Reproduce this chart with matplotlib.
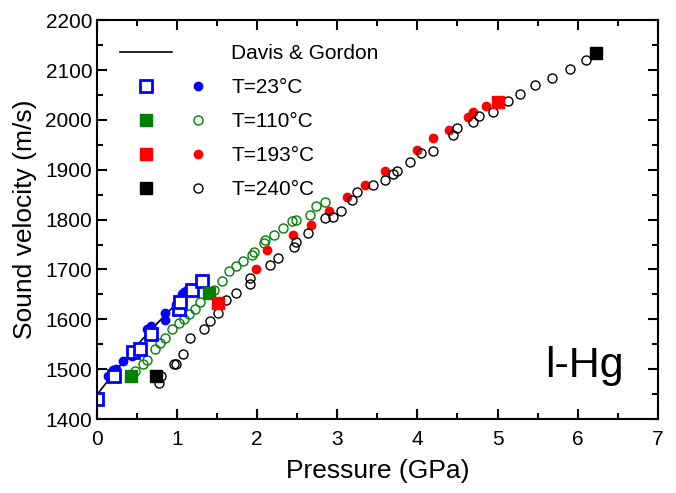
import matplotlib
matplotlib.use("Agg")
import matplotlib.pyplot as plt
from matplotlib.lines import Line2D
from matplotlib.legend_handler import HandlerTuple
from matplotlib.ticker import MultipleLocator

plt.rcParams['font.family'] = ['Liberation Sans', 'DejaVu Sans']

#%% data
# Davis & Gordon reference curve, 23 C
dg_p = [0.0, 0.2, 0.4, 0.6, 0.8, 1.0, 1.15]
dg_v = [1449, 1490, 1529, 1566, 1600, 1633, 1658]

# squares (other data set)
sq23_p = [0.0, 0.21, 0.45, 0.54, 0.67, 1.02, 1.04, 1.18, 1.31]
sq23_v = [1440, 1486, 1535, 1541, 1570, 1621, 1635, 1658, 1677]
sq110_p = [0.43, 1.40]
sq110_v = [1486, 1653]
sq193_p = [1.51, 5.00]
sq193_v = [1633, 2036]
sq240_p = [0.74, 6.23]
sq240_v = [1486, 2135]

# circles (this work)
c23_p = [0.14, 0.20, 0.24, 0.33, 0.44, 0.53, 0.63, 0.67, 0.66, 0.85, 0.85,
         0.99, 1.06, 1.09, 1.12]
c23_v = [1486, 1499, 1500, 1516, 1527, 1541, 1580, 1586, 1578, 1613, 1599,
         1629, 1651, 1655, 1658]
c110_p = [0.48, 0.57, 0.62, 0.72, 0.79, 0.85, 0.94, 1.02, 1.08, 1.15, 1.22,
          1.28, 1.46, 1.56, 1.65, 1.74, 1.82, 1.93, 1.96, 2.08, 2.10, 2.21,
          2.32, 2.44, 2.48, 2.66, 2.74, 2.85]
c110_v = [1496, 1511, 1519, 1541, 1553, 1563, 1580, 1593, 1601, 1611, 1621,
          1635, 1659, 1677, 1696, 1706, 1718, 1730, 1735, 1753, 1759, 1770,
          1783, 1798, 1800, 1809, 1828, 1836]
c193_p = [1.99, 2.12, 2.45, 2.67, 2.90, 3.12, 3.35, 3.59, 4.00, 4.20, 4.40,
          4.63, 4.69, 4.86]
c193_v = [1701, 1739, 1770, 1790, 1818, 1846, 1869, 1897, 1939, 1963, 1979,
          2005, 2015, 2028]
c240_p = [0.77, 0.80, 0.96, 0.99, 1.07, 1.16, 1.33, 1.41, 1.51, 1.61, 1.74,
          1.91, 1.91, 2.16, 2.26, 2.46, 2.48, 2.63, 2.85, 2.94, 3.04, 3.18,
          3.25, 3.45, 3.59, 3.70, 3.75, 3.91, 4.05, 4.20, 4.44, 4.50, 4.69,
          4.77, 4.94, 5.13, 5.28, 5.47, 5.68, 5.90, 6.10]
c240_v = [1473, 1486, 1510, 1511, 1531, 1563, 1581, 1597, 1613, 1638, 1653,
          1683, 1671, 1709, 1723, 1745, 1755, 1773, 1803, 1806, 1818, 1840,
          1855, 1869, 1880, 1891, 1898, 1915, 1933, 1938, 1970, 1983, 1996,
          2007, 2015, 2037, 2051, 2070, 2085, 2103, 2121]

labels = ['Davis & Gordon', 'T=23°C', 'T=110°C', 'T=193°C', 'T=240°C']

#%% plot
fig = plt.figure(figsize=(6.76, 4.93), dpi=100)
ax = fig.add_axes([0.1435, 0.150, 0.8295, 0.809])

line_dg, = ax.plot(dg_p, dg_v, color='black', lw=1.2)

blue, green, red = '#0000ff', '#008000', '#ff0000'

h_c23, = ax.plot(c23_p, c23_v, 'o', color=blue, ms=6, mec=blue)
h_c110, = ax.plot(c110_p, c110_v, 'o', mfc='none', mec=green, ms=6.5, mew=1)
h_c193, = ax.plot(c193_p, c193_v, 'o', color=red, ms=6, mec=red)
h_c240, = ax.plot(c240_p, c240_v, 'o', mfc='none', mec='black', ms=6.5, mew=1)

h_s23, = ax.plot(sq23_p, sq23_v, 's', mfc='white', mec=blue, ms=8, mew=2)
h_s110, = ax.plot(sq110_p, sq110_v, 's', color=green, ms=9)
h_s193, = ax.plot(sq193_p, sq193_v, 's', color=red, ms=9)
h_s240, = ax.plot(sq240_p, sq240_v, 's', color='black', ms=8)

ax.set_xlim(0, 7)
ax.set_ylim(1400, 2200)
ax.xaxis.set_major_locator(MultipleLocator(1))
ax.xaxis.set_minor_locator(MultipleLocator(0.5))
ax.yaxis.set_major_locator(MultipleLocator(100))
ax.yaxis.set_minor_locator(MultipleLocator(50))
ax.tick_params(which='both', direction='in', top=True, right=True,
               width=1.5, labelsize=15)
ax.tick_params(which='major', length=7)
ax.tick_params(which='minor', length=4)
ax.tick_params(axis='x', pad=8)
for s in ax.spines.values():
    s.set_linewidth(1.5)

ax.set_xlabel('Pressure (GPa)', fontsize=19, labelpad=7)
ax.set_ylabel('Sound velocity (m/s)', fontsize=19, labelpad=6)

ax.text(0.94, 0.105, 'l-Hg', transform=ax.transAxes, fontsize=31,
        ha='right', va='baseline')

blank = Line2D([], [], linestyle='none')
handles = [(line_dg, blank), (h_s23, h_c23), (h_s110, h_c110),
           (h_s193, h_c193), (h_s240, h_c240)]
ax.legend(handles, labels, handler_map={tuple: HandlerTuple(ndivide=None, pad=0)},
          loc='upper left', bbox_to_anchor=(0.041, 0.94), frameon=False,
          borderpad=0, borderaxespad=0, handlelength=5.0, handletextpad=0.35,
          labelspacing=0.72, fontsize=15)

fig.savefig('out.png', dpi=100)
